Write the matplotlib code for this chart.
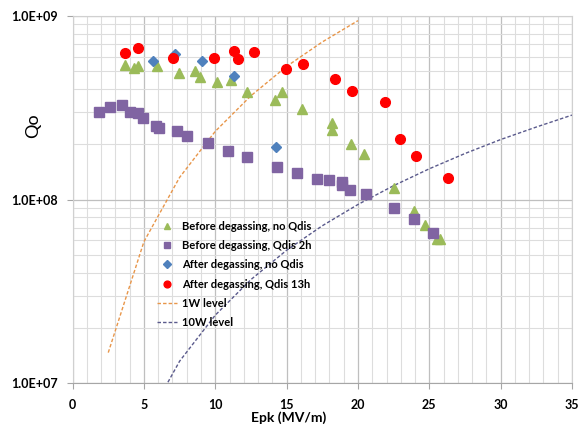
import numpy as np
import matplotlib
matplotlib.use("Agg")
from matplotlib import pyplot as plt
from matplotlib.ticker import FixedLocator, LogLocator, NullFormatter

# before degassing, no Qdis
bn_x = [3.67, 4.3, 4.6, 5.93, 7.45, 8.59, 8.9, 10.13, 11.1, 12.25, 14.18, 14.7, 16.05,
        18.17, 18.17, 19.48, 20.4, 22.51, 23.91, 24.73, 25.56, 25.75]
bn_y = [5.4e8, 5.2e8, 5.35e8, 5.3e8, 4.86e8, 5.0e8, 4.62e8, 4.34e8, 4.47e8, 3.87e8, 3.48e8, 3.84e8, 3.12e8,
        2.62e8, 2.39e8, 2.0e8, 1.77e8, 1.16e8, 8.69e7, 7.3e7, 6.13e7, 6.07e7]

# before degassing, Qdis 2h
b2_x = [1.87, 2.6, 3.46, 4.0, 4.58, 4.9, 5.86, 6.09, 7.3, 8.0, 9.5, 10.9, 12.25, 14.3, 15.73,
        17.1, 18.0, 18.85, 18.9, 19.46, 20.55, 22.56, 23.94, 25.27]
b2_y = [3.0e8, 3.2e8, 3.25e8, 3.0e8, 2.97e8, 2.76e8, 2.52e8, 2.46e8, 2.36e8, 2.23e8, 2.02e8, 1.84e8, 1.71e8, 1.5e8, 1.4e8,
        1.29e8, 1.28e8, 1.25e8, 1.2e8, 1.12e8, 1.07e8, 8.94e7, 7.8e7, 6.6e7]

# after degassing, no Qdis
an_x = [5.63, 7.21, 9.1, 11.34, 14.28]
an_y = [5.7e8, 6.16e8, 5.7e8, 4.68e8, 1.94e8]

# after degassing, Qdis 13h
a13_x = [3.69, 4.6, 7.07, 9.92, 11.34, 11.6, 12.74, 14.98, 16.17, 18.41, 19.55, 21.86, 22.96, 24.05, 26.34]
a13_y = [6.29e8, 6.64e8, 5.9e8, 5.9e8, 6.42e8, 5.8e8, 6.32e8, 5.13e8, 5.44e8, 4.54e8, 3.9e8, 3.39e8, 2.14e8, 1.73e8, 1.31e8]

# power levels
w1_x = [2.5, 5, 7.5, 10, 12.5, 15, 17.5, 20]
w1_y = [1.47e7, 5.9e7, 1.32e8, 2.35e8, 3.67e8, 5.3e8, 7.2e8, 9.4e8]
w10_x = [2.5, 5, 7.5, 10, 12.5, 15, 17.5, 20, 22.5, 25, 27.5, 30, 32.5, 35]
w10_y = [1.47e6, 5.9e6, 1.32e7, 2.35e7, 3.67e7, 5.3e7, 7.2e7, 9.4e7, 1.19e8, 1.47e8, 1.78e8, 2.12e8, 2.48e8, 2.88e8]

plt.rcParams['font.family'] = ['Lato', 'DejaVu Sans']
plt.rcParams['font.weight'] = 'bold'

fig = plt.figure(figsize=(5.78, 4.25), dpi=100)
ax = fig.add_axes([0.1256, 0.098, 0.864, 0.865])

ax.plot(bn_x, bn_y, '^', color='#9BBB59', ms=7, ls='none', label='Before degassing, no Qdis', zorder=3)
ax.plot(b2_x, b2_y, 's', color='#8064A2', ms=6.5, ls='none', label='Before degassing, Qdis 2h', zorder=3)
ax.plot(an_x, an_y, 'D', color='#4F81BD', ms=5.5, ls='none', label='After degassing, no Qdis', zorder=3)
ax.plot(a13_x, a13_y, 'o', color='#FF0000', ms=7, ls='none', label='After degassing, Qdis 13h', zorder=3)
ax.plot(w1_x, w1_y, '--', color='#E8964A', lw=1, dashes=(2.5, 1.5), label='1W level', zorder=2)
ax.plot(w10_x, w10_y, '--', color='#5A5A8C', lw=1, dashes=(2.5, 1.5), label='10W level', zorder=2)

ax.set_yscale('log')
ax.set_xlim(0, 35)
ax.set_ylim(1e7, 1e9)
ax.set_xticks(np.arange(0, 36, 5))
ax.xaxis.set_minor_locator(FixedLocator(np.arange(0, 36, 1)))
ax.yaxis.set_major_locator(FixedLocator([1e7, 1e8, 1e9]))
ax.yaxis.set_minor_locator(LogLocator(base=10, subs=np.arange(2, 10)))
ax.yaxis.set_minor_formatter(NullFormatter())
ax.set_yticklabels(['1.0E+07', '1.0E+08', '1.0E+09'])

ax.grid(which='major', color='#BFBFBF', lw=0.9)
ax.grid(which='minor', color='#DDDDDD', lw=0.8)
ax.set_axisbelow(True)
for s in ax.spines.values():
    s.set_color('#D0D0D0')
ax.spines['bottom'].set_color('#A6A6A6')
ax.tick_params(which='major', length=4, color='#A6A6A6', labelsize=9)
ax.tick_params(axis='x', which='major', pad=7)
ax.tick_params(axis='y', which='major', pad=7)
ax.tick_params(which='minor', length=0)

ax.set_xlabel('Epk (MV/m)', fontsize=10, fontweight='bold', va='bottom')
ax.xaxis.set_label_coords(0.433, -0.111)
ax.set_ylabel('Qo', fontsize=13, fontweight='normal')
ax.yaxis.set_label_coords(-0.063, 0.70)

leg = ax.legend(loc='upper left', bbox_to_anchor=(0.148, 0.47), frameon=False, fontsize=8,
                handlelength=1.8, labelspacing=0.75, handletextpad=0.5, markerscale=0.7)
for t in leg.get_texts():
    t.set_fontweight('bold')

fig.savefig('out.png', dpi=100)
